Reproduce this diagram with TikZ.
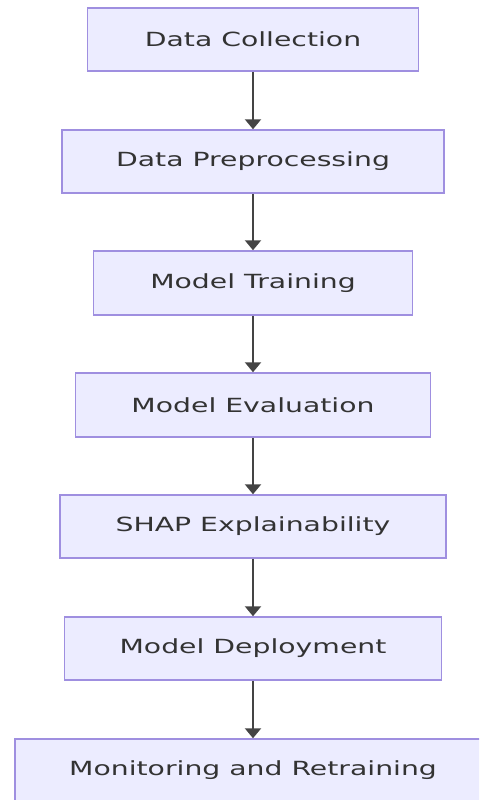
\documentclass[tikz,border=0pt]{standalone}
\usepackage{fontspec}
\usetikzlibrary{arrows.meta}
\newfontfamily\boxfont[FakeStretch=1.45]{DejaVu Sans}
\definecolor{boxfill}{HTML}{ECECFF}
\definecolor{boxline}{HTML}{9F8FE0}
\definecolor{textgray}{HTML}{333333}
\definecolor{arrowgray}{HTML}{444444}
\tikzset{
  stagebox/.style={rectangle, draw=boxline, fill=boxfill, line width=1.5pt,
    minimum height=63pt, inner sep=0pt, text=textgray,
    font=\boxfont\fontsize{19.5}{22}\selectfont},
  flowarrow/.style={draw=arrowgray, line width=2.2pt,
    -{Triangle[width=16pt,length=10pt]}}
}
\begin{document}
\begin{tikzpicture}[x=1pt,y=-1pt]
  \useasboundingbox (0,0) rectangle (479,800);
  \clip (0,0) rectangle (479,800);
  \fill[white] (0,0) rectangle (479,800);

  \node[stagebox, minimum width=331pt] (collect) at (253,39.5)  {Data Collection};
  \node[stagebox, minimum width=382pt] (prep)    at (253,161.5) {Data Preprocessing};
  \node[stagebox, minimum width=319pt, minimum height=64pt] (train) at (253,283) {Model Training};
  \node[stagebox, minimum width=355pt, minimum height=64pt] (eval)  at (253,405) {Model Evaluation};
  \node[stagebox, minimum width=386pt] (shap)    at (253,526.5) {SHAP Explainability};
  \node[stagebox, minimum width=377pt] (deploy)  at (253,648.5) {Model Deployment};
  \node[stagebox, minimum width=476pt] (monitor) at (253,770.5) {Monitoring and Retraining};

  \draw[flowarrow] (collect.south) -- (prep.north);
  \draw[flowarrow] (prep.south) -- (train.north);
  \draw[flowarrow] (train.south) -- (eval.north);
  \draw[flowarrow] (eval.south) -- (shap.north);
  \draw[flowarrow] (shap.south) -- (deploy.north);
  \draw[flowarrow] (deploy.south) -- (monitor.north);
\end{tikzpicture}
\end{document}
